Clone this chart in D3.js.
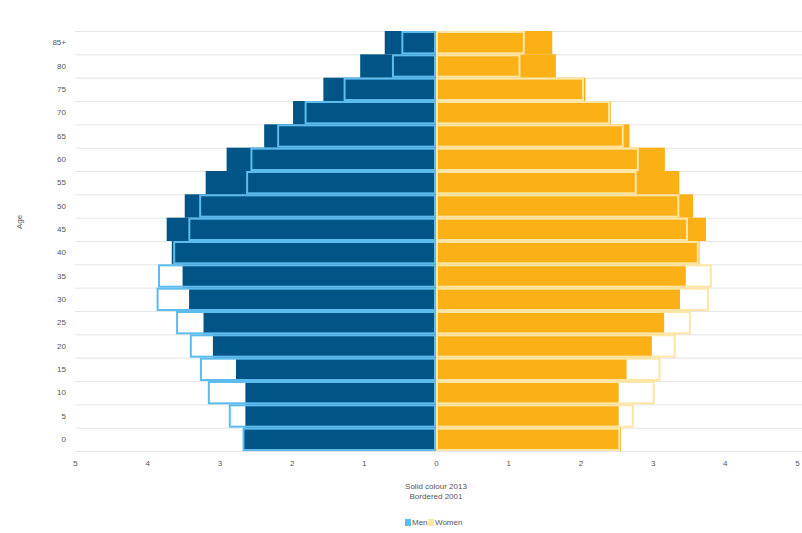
<!DOCTYPE html>
<html>
<head>
<meta charset="utf-8">
<script src="https://cdn.jsdelivr.net/npm/d3@7"></script>
<style>
  body { margin: 0; background: #fff; }
  svg { display: block; font-family: "Liberation Sans", Arial, sans-serif; }
</style>
</head>
<body>
<svg id="chart" width="802" height="533"></svg>
<script>
const ages = ["0", "5", "10", "15", "20", "25", "30", "35", "40", "45", "50", "55", "60", "65", "70", "75", "80", "85+"];
const men2013 = [2.67, 2.64, 2.64, 2.77, 3.09, 3.22, 3.42, 3.51, 3.66, 3.73, 3.48, 3.19, 2.90, 2.38, 1.98, 1.56, 1.05, 0.71];
const men2001 = [2.68, 2.87, 3.16, 3.27, 3.41, 3.60, 3.87, 3.85, 3.64, 3.43, 3.28, 2.63, 2.57, 2.20, 1.82, 1.28, 0.61, 0.48];
const women2013 = [2.56, 2.53, 2.53, 2.64, 2.99, 3.16, 3.38, 3.46, 3.65, 3.74, 3.56, 3.37, 3.17, 2.68, 2.42, 2.07, 1.66, 1.61];
const women2001 = [2.55, 2.74, 3.03, 3.11, 3.32, 3.53, 3.78, 3.82, 3.64, 3.49, 3.37, 2.78, 2.81, 2.60, 2.41, 2.05, 1.17, 1.23];
const xTicks = [-5, -4, -3, -2, -1, 0, 1, 2, 3, 4, 5];

const svg = d3.select("#chart");
const margin = { top: 31, right: 5, bottom: 82, left: 75 };
const width = 802, height = 533;

const x = d3.scaleLinear().domain([-5, 5]).range([margin.left, width - margin.right]);
const y = d3.scaleBand().domain(ages.slice().reverse()).range([margin.top, height - margin.bottom]).padding(0);

const colors = {
  menSolid: "#015486",
  menLine: "#5cbcee",
  womenSolid: "#fbb016",
  womenLine: "#fde6a6"
};

// grid lines at band edges
const edges = ages.map(a => y(a)).concat([y("0") + y.bandwidth()]);
svg.append("g")
  .selectAll("line")
  .data(edges)
  .join("line")
  .attr("x1", margin.left)
  .attr("x2", width)
  .attr("y1", d => d + 0.5)
  .attr("y2", d => d + 0.5)
  .attr("stroke", "#e4e4e4")
  .attr("stroke-width", 1);

const rows = ages.map((a, i) => ({ age: a, m13: men2013[i], m01: men2001[i], w13: women2013[i], w01: women2001[i] }));

// 2013 solid
svg.append("g").selectAll("rect")
  .data(rows).join("rect")
  .attr("x", d => x(-d.m13))
  .attr("y", d => y(d.age))
  .attr("width", d => x(0) - x(-d.m13))
  .attr("height", y.bandwidth())
  .attr("fill", colors.menSolid);

svg.append("g").selectAll("rect")
  .data(rows).join("rect")
  .attr("x", x(0))
  .attr("y", d => y(d.age))
  .attr("width", d => x(d.w13) - x(0))
  .attr("height", y.bandwidth())
  .attr("fill", colors.womenSolid);

// 2001 bordered
svg.append("g").selectAll("rect")
  .data(rows).join("rect")
  .attr("x", d => x(-d.m01) + 1)
  .attr("y", d => y(d.age) + 1)
  .attr("width", d => x(0) - x(-d.m01) - 2)
  .attr("height", y.bandwidth() - 2)
  .attr("fill", "none")
  .attr("stroke", colors.menLine)
  .attr("stroke-width", 2);

svg.append("g").selectAll("rect")
  .data(rows).join("rect")
  .attr("x", x(0) + 1)
  .attr("y", d => y(d.age) + 1)
  .attr("width", d => x(d.w01) - x(0) - 2)
  .attr("height", y.bandwidth() - 2)
  .attr("fill", "none")
  .attr("stroke", colors.womenLine)
  .attr("stroke-width", 2);

// x axis
const xAxis = svg.append("g")
  .attr("transform", `translate(0,${height - margin.bottom})`)
  .call(d3.axisBottom(x).tickValues(xTicks).tickFormat(d => Math.abs(d)).tickSize(0).tickPadding(9))
  .call(sel => sel.select(".domain").remove());
xAxis.selectAll("text").attr("fill", "#555").attr("font-size", 8);

// y axis
const yAxis = svg.append("g")
  .attr("transform", `translate(${margin.left},0)`)
  .call(d3.axisLeft(y).tickSize(0).tickPadding(9))
  .call(sel => sel.select(".domain").remove());
yAxis.selectAll("text").attr("fill", "#555").attr("font-size", 8);

svg.append("text")
  .attr("transform", "translate(22,222) rotate(-90)")
  .attr("text-anchor", "middle")
  .attr("font-size", 8)
  .attr("fill", "#555")
  .text("Age");

svg.append("text")
  .attr("x", x(0)).attr("y", 489)
  .attr("text-anchor", "middle").attr("font-size", 8).attr("fill", "#555")
  .text("Solid colour 2013");
svg.append("text")
  .attr("x", x(0)).attr("y", 499)
  .attr("text-anchor", "middle").attr("font-size", 8).attr("fill", "#555")
  .text("Bordered 2001");

// legend
const legend = svg.append("g").attr("transform", "translate(405,525)");
const items = [{ label: "Men", color: colors.menLine, dx: 0 }, { label: "Women", color: colors.womenLine, dx: 23 }];
items.forEach(it => {
  legend.append("rect").attr("x", it.dx).attr("y", -6).attr("width", 6).attr("height", 7).attr("fill", it.color);
  legend.append("text").attr("x", it.dx + 7).attr("y", 0).attr("font-size", 8).attr("fill", "#555").text(it.label);
});
</script>
</body>
</html>
